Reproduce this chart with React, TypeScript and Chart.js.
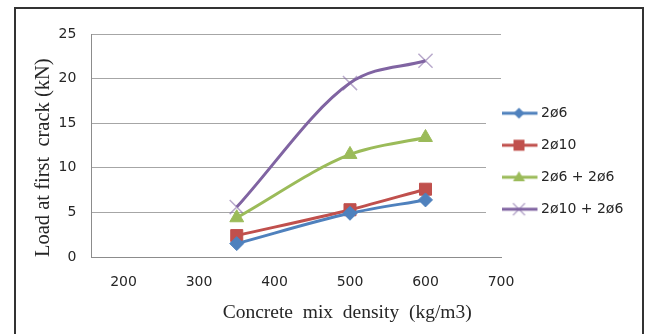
import React, { useEffect, useRef } from 'react';
import { Chart, registerables } from 'chart.js';

Chart.register(...registerables);

// ---- data ----
const DENSITY = [350, 500, 600];
const LOAD_2D6 = [1.5, 4.9, 6.4];
const LOAD_2D10 = [2.4, 5.3, 7.6];
const LOAD_2D6_2D6 = [4.4, 11.5, 13.4];
const LOAD_2D10_2D6 = [5.6, 19.5, 22.0];
const SERIES_LABELS = ['2ø6', '2ø10', '2ø6 + 2ø6', '2ø10 + 2ø6'];
const X_TICKS = [200, 300, 400, 500, 600, 700];
const Y_TICKS = [0, 5, 10, 15, 20, 25];
const X_TITLE = 'Concrete  mix  density  (kg/m3)      ';
const Y_TITLE = 'Load at first  crack (kN)';

const COLORS = ['#4F81BD', '#C0504D', '#9BBB59', '#8064A2'];
const MARKER_COLORS = ['#4F81BD', '#C0504D', '#9BBB59', 'rgba(128,100,162,0.55)'];
const STYLES = ['rectRot', 'rect', 'triangle', 'crossRot'];
const RADII = [7, 8.5, 8, 10];

const TEXT = '#262626';
const TICK_FONT = { family: 'DejaVu Sans', size: 14 };
const TITLE_FONT = { family: 'Liberation Serif', size: 19.5 };
const YTITLE_FONT = { family: 'Liberation Serif', size: 20.5 };

function makeIcon(i: number): HTMLCanvasElement {
  const c = document.createElement('canvas');
  c.width = 52;
  c.height = 18;
  const ctx = c.getContext('2d')!;
  const cy = 9;
  ctx.strokeStyle = COLORS[i];
  ctx.lineWidth = 3;
  ctx.beginPath();
  ctx.moveTo(0, cy);
  ctx.lineTo(37, cy);
  ctx.stroke();
  const cx = 18.5;
  ctx.fillStyle = MARKER_COLORS[i];
  ctx.strokeStyle = MARKER_COLORS[i];
  const s = STYLES[i];
  if (s === 'rectRot') {
    const r = 5.5;
    ctx.beginPath();
    ctx.moveTo(cx, cy - r);
    ctx.lineTo(cx + r, cy);
    ctx.lineTo(cx, cy + r);
    ctx.lineTo(cx - r, cy);
    ctx.closePath();
    ctx.fill();
  } else if (s === 'rect') {
    ctx.fillRect(cx - 5.5, cy - 5.5, 11, 11);
  } else if (s === 'triangle') {
    ctx.beginPath();
    ctx.moveTo(cx, cy - 6);
    ctx.lineTo(cx + 6, cy + 4);
    ctx.lineTo(cx - 6, cy + 4);
    ctx.closePath();
    ctx.fill();
  } else {
    ctx.lineWidth = 1.5;
    const r = 6;
    ctx.beginPath();
    ctx.moveTo(cx - r, cy - r);
    ctx.lineTo(cx + r, cy + r);
    ctx.moveTo(cx + r, cy - r);
    ctx.lineTo(cx - r, cy + r);
    ctx.stroke();
  }
  return c;
}

const legendBackdrop = {
  id: 'legendBackdrop',
  beforeDatasetsDraw(chart: any) {
    const { ctx, chartArea, scales } = chart;
    const top = scales.y.getPixelForValue(17.5);
    const bottom = scales.y.getPixelForValue(2.5);
    ctx.save();
    ctx.fillStyle = '#ffffff';
    ctx.fillRect(chartArea.right - 15, top, 16, bottom - top);
    ctx.restore();
  },
};

export default function App() {
  const ref = useRef<HTMLCanvasElement>(null);

  useEffect(() => {
    if (!ref.current) return;
    const icons = SERIES_LABELS.map((_, i) => makeIcon(i));
    const seriesValues = [LOAD_2D6, LOAD_2D10, LOAD_2D6_2D6, LOAD_2D10_2D6];
    const chart = new Chart(ref.current, {
      type: 'line',
      data: {
        datasets: seriesValues.map((vals, i) => ({
          label: SERIES_LABELS[i],
          data: DENSITY.map((x, j) => ({ x, y: vals[j] })),
          borderColor: COLORS[i],
          backgroundColor: MARKER_COLORS[i],
          pointBackgroundColor: MARKER_COLORS[i],
          pointBorderColor: MARKER_COLORS[i],
          pointBorderWidth: i === 3 ? 1.5 : 1,
          pointStyle: STYLES[i],
          pointRadius: RADII[i],
          borderWidth: 3,
          cubicInterpolationMode: 'monotone',
          fill: false,
        })),
      },
      options: {
        responsive: false,
        animation: false,
        layout: { padding: { left: 27, right: 14, top: 34, bottom: 5 } },
        plugins: {
          tooltip: { enabled: false },
          legend: {
            position: 'right',
            align: 'start',
            fullSize: false,
            maxWidth: 130,
            title: {
              display: true,
              text: ' ',
              font: { size: 10, lineHeight: 1 },
              padding: { top: 44.2, bottom: 0 },
            },
            labels: {
              usePointStyle: true,
              pointStyleWidth: 15,
              padding: 18,
              font: TICK_FONT,
              color: TEXT,
              generateLabels: (ch: any) =>
                (Chart.defaults as any).plugins.legend.labels
                  .generateLabels(ch)
                  .map((l: any, i: number) => ({ ...l, pointStyle: icons[i], rotation: 0 })),
            },
          },
        },
        scales: {
          x: {
            type: 'linear',
            min: 157.5,
            max: 700,
            afterBuildTicks: (s: any) => {
              s.ticks = X_TICKS.map((v) => ({ value: v }));
            },
            afterFit: (s: any) => {
              s.height = 72;
            },
            grid: { display: false, drawTicks: false },
            border: { display: true, color: '#8c8c8c', width: 1 },
            ticks: { padding: 17, font: TICK_FONT, color: TEXT, maxRotation: 0 },
            title: {
              display: true,
              text: X_TITLE,
              align: 'end',
              font: TITLE_FONT,
              color: TEXT,
              padding: { top: 10, bottom: 4 },
            },
          },
          y: {
            type: 'linear',
            min: 0,
            max: 25,
            afterBuildTicks: (s: any) => {
              s.ticks = Y_TICKS.map((v) => ({ value: v }));
            },
            afterFit: (s: any) => {
              s.width = 64.4;
            },
            grid: { color: '#a6a6a6', lineWidth: 1, drawTicks: false },
            border: { display: true, color: '#8c8c8c', width: 1 },
            ticks: { padding: 15, font: TICK_FONT, color: TEXT },
            title: {
              display: true,
              text: Y_TITLE,
              align: 'start',
              font: YTITLE_FONT,
              color: TEXT,
              padding: { top: 4, bottom: 4 },
            },
          },
        },
      } as any,
      plugins: [legendBackdrop],
    });
    return () => chart.destroy();
  }, []);

  return (
    <div
      style={{
        position: 'fixed',
        left: 0,
        top: 0,
        width: 645,
        height: 334,
        overflow: 'hidden',
        background: '#ffffff',
      }}
    >
      <div
        style={{
          position: 'absolute',
          left: 14,
          top: 7,
          width: 630,
          height: 360,
          border: '2px solid #333333',
          boxSizing: 'border-box',
        }}
      />
      <canvas
        ref={ref}
        width={645}
        height={334}
        style={{ position: 'absolute', left: 0, top: 0, width: 645, height: 334 }}
      />
    </div>
  );
}
